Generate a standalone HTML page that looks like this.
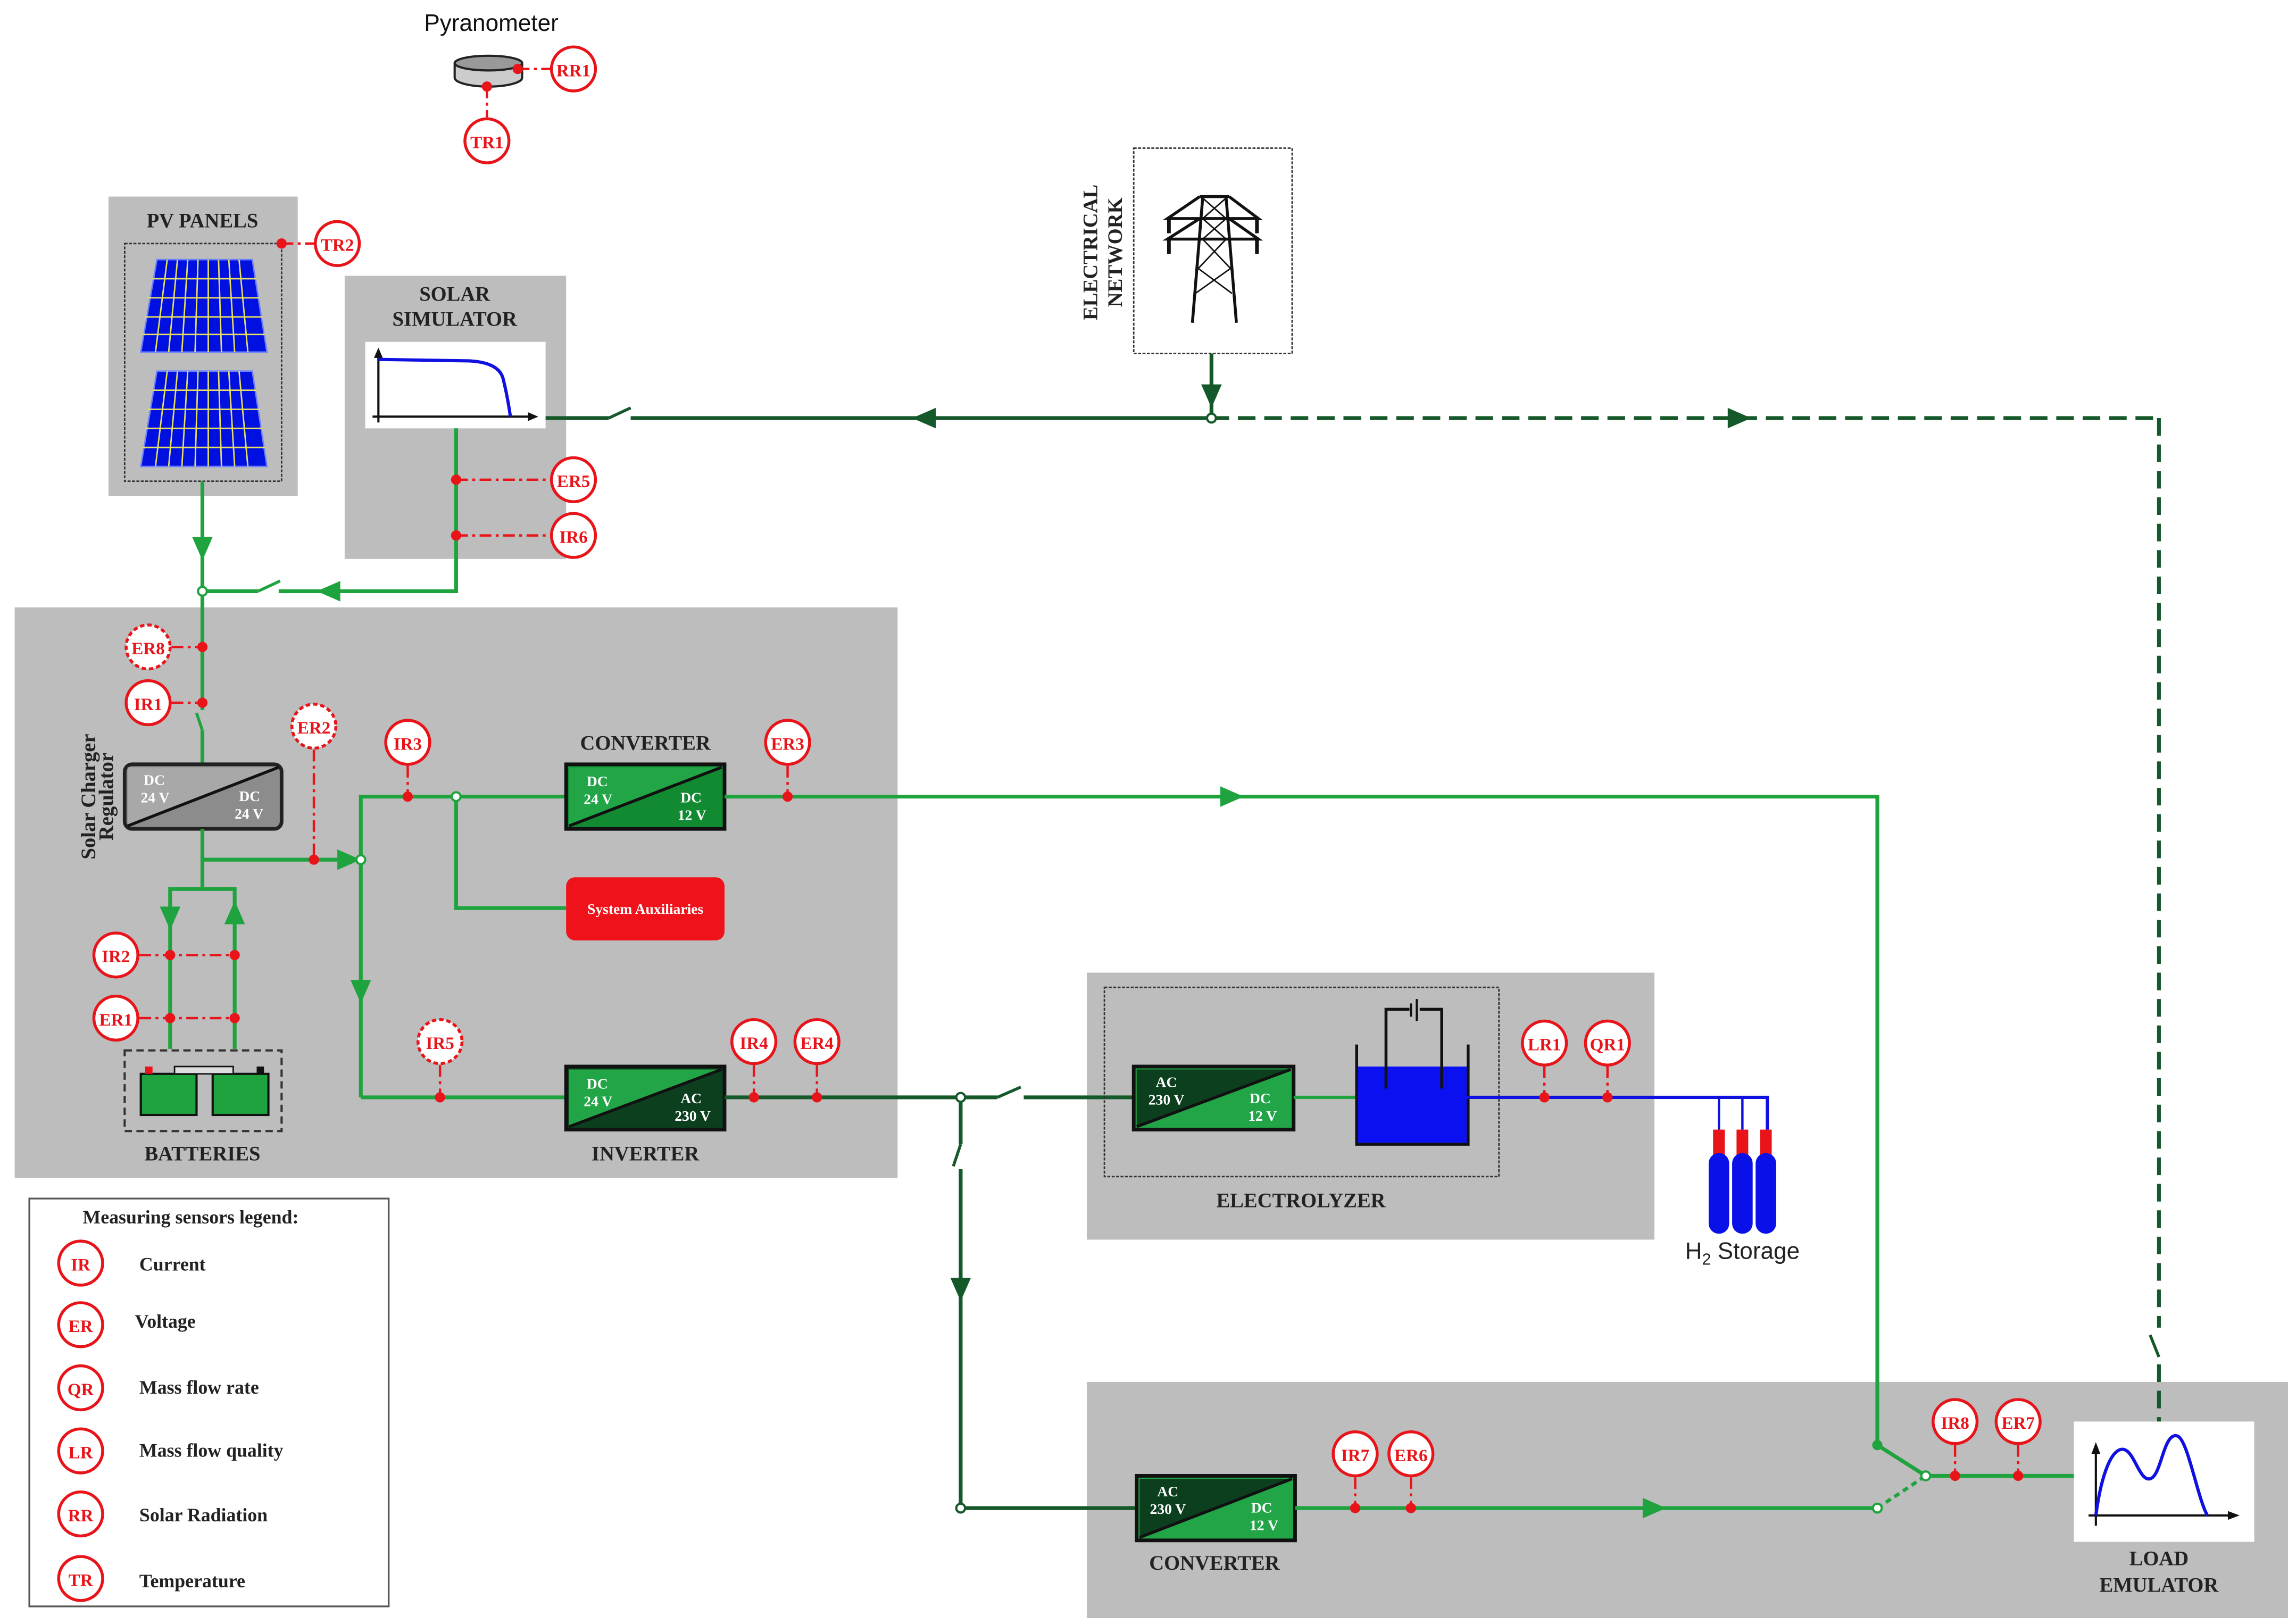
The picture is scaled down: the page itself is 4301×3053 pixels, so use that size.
<!DOCTYPE html>
<html><head><meta charset="utf-8"><style>
html,body{margin:0;padding:0;background:#fff;}
svg{display:block;}
.s{fill:#fff;stroke:#e8141a;stroke-width:2;}
.sd{fill:#fff;stroke:#e8141a;stroke-width:2;stroke-dasharray:3 2;}
.st{font-family:"Liberation Serif",serif;font-weight:bold;font-size:12px;fill:#e8141a;text-anchor:middle;}
.lb{font-family:"Liberation Serif",serif;font-weight:bold;font-size:14px;fill:#222;text-anchor:middle;}
.bx{font-family:"Liberation Serif",serif;font-weight:bold;font-size:10px;fill:#fff;}
.g{stroke:#1fa33f;stroke-width:2.6;fill:none;}
.dg{stroke:#15592a;stroke-width:2.6;fill:none;}
.rd{stroke:#e8141a;stroke-width:1.6;stroke-dasharray:8 3 2 3;fill:none;}
.dot{fill:#e8141a;}
.lg{font-family:"Liberation Serif",serif;font-weight:bold;font-size:13px;fill:#222;}
</style></head><body>
<svg width="4301" height="3053" viewBox="0 0 1560 1107" preserveAspectRatio="none" xmlns="http://www.w3.org/2000/svg">
<defs>
<marker id="ag" markerWidth="8" markerHeight="8" refX="4" refY="4" orient="auto" markerUnits="userSpaceOnUse"></marker>
</defs>
<rect width="1560" height="1107" fill="#fff"/>

<!-- gray panels -->
<rect x="74" y="134" width="129" height="204" fill="#bdbdbd"/>
<rect x="235" y="188" width="151" height="193" fill="#bdbdbd"/>
<rect x="10" y="414" width="602" height="389" fill="#bdbdbd"/>
<rect x="741" y="663" width="387" height="182" fill="#bdbdbd"/>
<rect x="741" y="942" width="819" height="161" fill="#bdbdbd"/>

<!-- Pyranometer -->
<text x="335" y="21" font-family="Liberation Sans,sans-serif" font-size="16" text-anchor="middle" fill="#111">Pyranometer</text>
<path d="M310,43 v10 a23,6 0 0 0 46,0 v-10" fill="#ccc" stroke="#222" stroke-width="1.5"/>
<ellipse cx="333" cy="43" rx="23" ry="5" fill="#999" stroke="#222" stroke-width="1.5"/>
<line x1="353" y1="47" x2="375" y2="47" class="rd"/>
<circle cx="353" cy="47" r="3.5" class="dot"/>
<line x1="332" y1="59" x2="332" y2="80" class="rd"/>
<circle cx="332" cy="59" r="3.5" class="dot"/>
<circle cx="391" cy="47" r="15" class="s"/><text x="391" y="52" class="st">RR1</text>
<circle cx="332" cy="96" r="15" class="s"/><text x="332" y="101" class="st">TR1</text>

<!-- PV panels -->
<text x="138" y="155" class="lb">PV PANELS</text>
<rect x="85" y="166" width="107" height="162" fill="none" stroke="#333" stroke-width="1" stroke-dasharray="2 1"/>
<g>
<polygon points="107,177 172,177 182,240 96,240" fill="#0010e0" stroke="#6a7fff" stroke-width="1"/>
<g stroke="#e8e060" stroke-width="1">
<line x1="104" y1="190" x2="175" y2="190"/><line x1="101" y1="203" x2="177" y2="203"/><line x1="99" y1="216" x2="179" y2="216"/><line x1="97" y1="228" x2="181" y2="228"/>
<line x1="114" y1="177" x2="106" y2="240"/><line x1="121" y1="177" x2="115" y2="240"/><line x1="128" y1="177" x2="124" y2="240"/><line x1="135" y1="177" x2="133" y2="240"/><line x1="142" y1="177" x2="142" y2="240"/><line x1="149" y1="177" x2="151" y2="240"/><line x1="156" y1="177" x2="160" y2="240"/><line x1="163" y1="177" x2="169" y2="240"/>
</g>
<polygon points="107,253 172,253 182,318 96,318" fill="#0010e0" stroke="#6a7fff" stroke-width="1"/>
<g stroke="#e8e060" stroke-width="1">
<line x1="104" y1="266" x2="175" y2="266"/><line x1="101" y1="279" x2="177" y2="279"/><line x1="99" y1="292" x2="179" y2="292"/><line x1="97" y1="305" x2="181" y2="305"/>
<line x1="114" y1="253" x2="106" y2="318"/><line x1="121" y1="253" x2="115" y2="318"/><line x1="128" y1="253" x2="124" y2="318"/><line x1="135" y1="253" x2="133" y2="318"/><line x1="142" y1="253" x2="142" y2="318"/><line x1="149" y1="253" x2="151" y2="318"/><line x1="156" y1="253" x2="160" y2="318"/><line x1="163" y1="253" x2="169" y2="318"/>
</g>
</g>
<line x1="192" y1="166" x2="214" y2="166" class="rd"/>
<circle cx="192" cy="166" r="3.5" class="dot"/>
<circle cx="230" cy="166" r="15" class="s"/><text x="230" y="171" class="st">TR2</text>

<!-- Solar simulator -->
<text x="310" y="205" class="lb">SOLAR</text>
<text x="310" y="222" class="lb">SIMULATOR</text>
<rect x="249" y="233" width="123" height="59" fill="#fff"/>
<line x1="258" y1="240" x2="258" y2="288" stroke="#111" stroke-width="1.5"/>
<line x1="254" y1="284" x2="364" y2="284" stroke="#111" stroke-width="1.5"/>
<polygon points="258,237 255,244 261,244" fill="#111"/>
<polygon points="367,284 360,281 360,287" fill="#111"/>
<path d="M258,245 L320,246 Q340,247 343,258 Q346,270 348,284" fill="none" stroke="#1010e0" stroke-width="2.2"/>

<!-- sim outputs -->
<path d="M311,292 V403 H140" class="g"/>
<polygon points="216,403 232,396 232,410" fill="#1fa33f"/>
<line x1="311" y1="327" x2="375" y2="327" class="rd"/>
<line x1="311" y1="365" x2="375" y2="365" class="rd"/>
<circle cx="311" cy="327" r="3.5" class="dot"/><circle cx="311" cy="365" r="3.5" class="dot"/>
<circle cx="391" cy="327" r="15" class="s"/><text x="391" y="332" class="st">ER5</text>
<circle cx="391" cy="365" r="15" class="s"/><text x="391" y="370" class="st">IR6</text>
<!-- switch gap on horizontal -->
<rect x="176" y="398" width="14" height="10" fill="#fff"/>
<line x1="176" y1="403" x2="191" y2="396" stroke="#1fa33f" stroke-width="2"/>

<!-- PV down -->
<line x1="138" y1="328" x2="138" y2="520" class="g"/>
<polygon points="138,382 131,366 145,366" fill="#1fa33f"/>
<circle cx="138" cy="403" r="3" fill="#fff" stroke="#1fa33f" stroke-width="1.5"/>
<!-- switch IR1 area -->
<rect x="134" y="484" width="8" height="14" fill="#bdbdbd"/>
<line x1="138" y1="498" x2="134" y2="486" stroke="#1fa33f" stroke-width="2"/>
<line x1="117" y1="441" x2="138" y2="441" class="rd"/>
<line x1="117" y1="479" x2="138" y2="479" class="rd"/>
<circle cx="138" cy="441" r="3.5" class="dot"/><circle cx="138" cy="479" r="3.5" class="dot"/>
<circle cx="101" cy="441" r="15" class="sd"/><text x="101" y="446" class="st">ER8</text>
<circle cx="101" cy="479" r="15" class="s"/><text x="101" y="484" class="st">IR1</text>

<!-- Electrical network -->
<rect x="773" y="101" width="108" height="140" fill="#fff" stroke="#333" stroke-width="1" stroke-dasharray="2 1"/>
<text transform="translate(748,172) rotate(-90)" class="lb" font-size="13">ELECTRICAL</text>
<text transform="translate(765,172) rotate(-90)" class="lb" font-size="13">NETWORK</text>
<g stroke="#111" stroke-width="2" fill="none">
<path d="M813,220 L820,135 M843,220 L836,135"/>
<path d="M818,134 H838"/>
<path d="M818,134 L796,149 H858 L838,134"/>
<path d="M818,149 L796,163 H858 L838,149"/>
<path d="M797,148 v11 M857,148 v11 M797,162 v11 M857,162 v11" stroke-width="2.5"/>
<path d="M820,135 L836,149 M836,135 L820,149 M820,149 L836,163 M836,149 L820,163 M820,163 L839,183 M836,163 L817,183 M817,183 L840,200 M839,183 L815,200" stroke-width="1"/>
</g>
<line x1="826" y1="241" x2="826" y2="285" class="dg"/>
<polygon points="826,278 819,262 833,262" fill="#15592a"/>
<line x1="372" y1="285" x2="415" y2="285" class="dg"/>
<line x1="415" y1="285" x2="430" y2="278" stroke="#15592a" stroke-width="2"/>
<line x1="430" y1="285" x2="826" y2="285" class="dg"/>
<polygon points="622,285 638,278 638,292" fill="#15592a"/>
<line x1="826" y1="285" x2="1472" y2="285" stroke="#15592a" stroke-width="2.6" stroke-dasharray="12 6"/>
<polygon points="1194,285 1178,278 1178,292" fill="#15592a"/>
<line x1="1472" y1="285" x2="1472" y2="905" stroke="#15592a" stroke-width="2.6" stroke-dasharray="12 6"/>
<line x1="1466" y1="910" x2="1472" y2="925" stroke="#15592a" stroke-width="2"/>
<line x1="1472" y1="930" x2="1472" y2="969" stroke="#15592a" stroke-width="2.6" stroke-dasharray="12 6"/>
<circle cx="826" cy="285" r="3" fill="#fff" stroke="#15592a" stroke-width="1.5"/>

<!-- Solar charger regulator -->
<text transform="translate(65,543) rotate(-90)" class="lb" font-size="11">Solar Charger</text>
<text transform="translate(77,543) rotate(-90)" class="lb" font-size="11">Regulator</text>
<rect x="85" y="521" width="107" height="44" rx="5" fill="#8c8c8c" stroke="#222" stroke-width="2.5"/>
<polygon points="87,523 190,523 87,563" fill="#a8a8a8"/>
<line x1="87" y1="563" x2="190" y2="523" stroke="#111" stroke-width="2"/>
<text x="98" y="535" class="bx" fill="#eee">DC</text><text x="96" y="547" class="bx">24 V</text>
<text x="163" y="546" class="bx">DC</text><text x="160" y="558" class="bx">24 V</text>

<path d="M138,565 V606" class="g"/>
<path d="M138,586 H246" class="g"/>
<polygon points="246,586 230,579 230,593" fill="#1fa33f"/>
<line x1="214" y1="511" x2="214" y2="586" class="rd"/>
<circle cx="214" cy="586" r="3.5" class="dot"/>
<circle cx="214" cy="495" r="15" class="sd"/><text x="214" y="500" class="st">ER2</text>

<!-- battery branches -->
<path d="M116,715 V606 H160 V715" class="g"/>
<polygon points="116,634 109,618 123,618" fill="#1fa33f"/>
<polygon points="160,614 153,630 167,630" fill="#1fa33f"/>
<line x1="95" y1="651" x2="160" y2="651" class="rd"/>
<line x1="95" y1="694" x2="160" y2="694" class="rd"/>
<circle cx="116" cy="651" r="3.5" class="dot"/><circle cx="160" cy="651" r="3.5" class="dot"/>
<circle cx="116" cy="694" r="3.5" class="dot"/><circle cx="160" cy="694" r="3.5" class="dot"/>
<circle cx="79" cy="651" r="15" class="s"/><text x="79" y="656" class="st">IR2</text>
<circle cx="79" cy="694" r="15" class="s"/><text x="79" y="699" class="st">ER1</text>
<rect x="85" y="716" width="107" height="55" fill="none" stroke="#333" stroke-width="1.5" stroke-dasharray="5 3"/>
<rect x="96" y="732" width="38" height="28" fill="#1fa33f" stroke="#111" stroke-width="1.5"/>
<rect x="145" y="732" width="38" height="28" fill="#1fa33f" stroke="#111" stroke-width="1.5"/>
<rect x="99" y="727" width="5" height="5" fill="#e8141a"/><rect x="175" y="727" width="5" height="5" fill="#111"/>
<rect x="119" y="727" width="40" height="5" fill="#ddd" stroke="#111" stroke-width="1"/>
<text x="138" y="791" class="lb">BATTERIES</text>

<!-- bus -->
<path d="M246,748 V543 H386" class="g"/>
<polygon points="246,684 239,668 253,668" fill="#1fa33f"/>
<circle cx="246" cy="586" r="3" fill="#fff" stroke="#1fa33f" stroke-width="1.5"/>
<path d="M311,543 V619 H386" class="g"/>
<circle cx="311" cy="543" r="3" fill="#fff" stroke="#1fa33f" stroke-width="1.5"/>
<line x1="278" y1="522" x2="278" y2="543" class="rd"/><circle cx="278" cy="543" r="3.5" class="dot"/>
<circle cx="278" cy="506" r="15" class="s"/><text x="278" y="511" class="st">IR3</text>

<!-- converter DC/DC -->
<text x="440" y="511" class="lb">CONVERTER</text>
<rect x="386" y="521" width="108" height="44" fill="#128a32" stroke="#111" stroke-width="2.5"/>
<polygon points="388,523 492,523 388,563" fill="#22a547"/>
<line x1="388" y1="563" x2="492" y2="523" stroke="#111" stroke-width="2"/>
<text x="400" y="536" class="bx">DC</text><text x="398" y="548" class="bx">24 V</text>
<text x="464" y="547" class="bx">DC</text><text x="462" y="559" class="bx">12 V</text>

<rect x="386" y="598" width="108" height="43" rx="6" fill="#f0121a"/>
<text x="440" y="623" class="bx" text-anchor="middle" font-size="11">System Auxiliaries</text>

<path d="M494,543 H1280 V985" class="g"/>
<polygon points="848,543 832,536 832,550" fill="#1fa33f"/>
<line x1="537" y1="522" x2="537" y2="543" class="rd"/><circle cx="537" cy="543" r="3.5" class="dot"/>
<circle cx="537" cy="506" r="15" class="s"/><text x="537" y="511" class="st">ER3</text>

<!-- inverter -->
<path d="M246,748 H386" class="g"/>
<line x1="300" y1="726" x2="300" y2="748" class="rd"/><circle cx="300" cy="748" r="3.5" class="dot"/>
<circle cx="300" cy="710" r="15" class="sd"/><text x="300" y="715" class="st">IR5</text>
<rect x="386" y="727" width="108" height="43" fill="#0b3f1e" stroke="#111" stroke-width="2.5"/>
<polygon points="388,729 492,729 388,768" fill="#22a547"/>
<line x1="388" y1="768" x2="492" y2="729" stroke="#111" stroke-width="2"/>
<text x="400" y="742" class="bx">DC</text><text x="398" y="754" class="bx">24 V</text>
<text x="464" y="752" class="bx">AC</text><text x="460" y="764" class="bx">230 V</text>
<text x="440" y="791" class="lb">INVERTER</text>

<path d="M494,748 H680" class="dg"/>
<line x1="680" y1="748" x2="696" y2="741" stroke="#15592a" stroke-width="2"/>
<path d="M698,748 H773" class="dg"/>
<line x1="514" y1="726" x2="514" y2="748" class="rd"/><circle cx="514" cy="748" r="3.5" class="dot"/>
<line x1="557" y1="726" x2="557" y2="748" class="rd"/><circle cx="557" cy="748" r="3.5" class="dot"/>
<circle cx="514" cy="710" r="15" class="s"/><text x="514" y="715" class="st">IR4</text>
<circle cx="557" cy="710" r="15" class="s"/><text x="557" y="715" class="st">ER4</text>

<path d="M655,748 V780" class="dg"/>
<line x1="655" y1="780" x2="650" y2="795" stroke="#15592a" stroke-width="2"/>
<path d="M655,797 V1028 H775" class="dg"/>
<polygon points="655,887 648,871 662,871" fill="#15592a"/>
<circle cx="655" cy="748" r="3" fill="#fff" stroke="#15592a" stroke-width="1.5"/>
<circle cx="655" cy="1028" r="3" fill="#fff" stroke="#15592a" stroke-width="1.5"/>

<!-- electrolyzer -->
<rect x="753" y="673" width="269" height="129" fill="none" stroke="#333" stroke-width="1" stroke-dasharray="2 1"/>
<rect x="773" y="727" width="109" height="43" fill="#22a547" stroke="#111" stroke-width="2.5"/>
<polygon points="775,729 880,729 775,768" fill="#0b3f1e"/>
<line x1="775" y1="768" x2="880" y2="729" stroke="#111" stroke-width="2"/>
<text x="788" y="741" class="bx">AC</text><text x="783" y="753" class="bx">230 V</text>
<text x="852" y="752" class="bx">DC</text><text x="851" y="764" class="bx">12 V</text>
<line x1="882" y1="748" x2="925" y2="748" stroke="#1fa33f" stroke-width="2.2"/>
<rect x="926" y="727" width="74" height="52" fill="#0a10f0"/>
<path d="M925,712 V780 H1001 V712" fill="none" stroke="#111" stroke-width="2"/>
<path d="M945,742 V688 H961 M968,688 H983 V742" fill="none" stroke="#111" stroke-width="2"/>
<line x1="962" y1="684" x2="962" y2="693" stroke="#111" stroke-width="1.5"/>
<line x1="966" y1="681" x2="966" y2="696" stroke="#111" stroke-width="1.5"/>
<text x="887" y="823" class="lb">ELECTROLYZER</text>
<path d="M1000,748 H1205 V770" fill="none" stroke="#1010e0" stroke-width="2.2"/>
<path d="M1172,748 V770 M1188,748 V770" fill="none" stroke="#1010e0" stroke-width="1.6"/>
<line x1="1053" y1="727" x2="1053" y2="748" class="rd"/><circle cx="1053" cy="748" r="3.5" class="dot"/>
<line x1="1096" y1="727" x2="1096" y2="748" class="rd"/><circle cx="1096" cy="748" r="3.5" class="dot"/>
<circle cx="1053" cy="711" r="15" class="s"/><text x="1053" y="716" class="st">LR1</text>
<circle cx="1096" cy="711" r="15" class="s"/><text x="1096" y="716" class="st">QR1</text>
<g>
<rect x="1168" y="770" width="8" height="20" fill="#e8141a"/><rect x="1184" y="770" width="8" height="20" fill="#e8141a"/><rect x="1200" y="770" width="8" height="20" fill="#e8141a"/>
<rect x="1165" y="786" width="14" height="55" rx="7" fill="#0a10e8"/>
<rect x="1181" y="786" width="14" height="55" rx="7" fill="#0a10e8"/>
<rect x="1197" y="786" width="14" height="55" rx="7" fill="#0a10e8"/>
</g>
<text x="1188" y="858" font-family="Liberation Sans,sans-serif" font-size="16" text-anchor="middle" fill="#222">H<tspan font-size="11" dy="4">2</tspan><tspan dy="-4"> Storage</tspan></text>

<!-- bottom converter -->
<rect x="775" y="1006" width="108" height="44" fill="#22a547" stroke="#111" stroke-width="2.5"/>
<polygon points="777,1008 881,1008 777,1048" fill="#0b3f1e"/>
<line x1="777" y1="1048" x2="881" y2="1008" stroke="#111" stroke-width="2"/>
<text x="789" y="1020" class="bx">AC</text><text x="784" y="1032" class="bx">230 V</text>
<text x="853" y="1031" class="bx">DC</text><text x="852" y="1043" class="bx">12 V</text>
<text x="828" y="1070" class="lb">CONVERTER</text>
<path d="M883,1028 H1280" class="g"/>
<polygon points="1136,1028 1120,1021 1120,1035" fill="#1fa33f"/>
<line x1="924" y1="1007" x2="924" y2="1028" class="rd"/><circle cx="924" cy="1028" r="3.5" class="dot"/>
<line x1="962" y1="1007" x2="962" y2="1028" class="rd"/><circle cx="962" cy="1028" r="3.5" class="dot"/>
<circle cx="924" cy="991" r="15" class="s"/><text x="924" y="996" class="st">IR7</text>
<circle cx="962" cy="991" r="15" class="s"/><text x="962" y="996" class="st">ER6</text>
<line x1="1280" y1="985" x2="1313" y2="1006" stroke="#1fa33f" stroke-width="2.6"/>
<circle cx="1280" cy="985" r="3.5" fill="#1fa33f"/>
<line x1="1280" y1="1028" x2="1313" y2="1006" stroke="#1fa33f" stroke-width="2.4" stroke-dasharray="4 3"/>
<circle cx="1280" cy="1028" r="3" fill="#fff" stroke="#1fa33f" stroke-width="1.5"/>
<path d="M1313,1006 H1414" class="g"/>
<circle cx="1313" cy="1006" r="3" fill="#fff" stroke="#1fa33f" stroke-width="1.5"/>
<line x1="1333" y1="985" x2="1333" y2="1006" class="rd"/><circle cx="1333" cy="1006" r="3.5" class="dot"/>
<line x1="1376" y1="985" x2="1376" y2="1006" class="rd"/><circle cx="1376" cy="1006" r="3.5" class="dot"/>
<circle cx="1333" cy="969" r="15" class="s"/><text x="1333" y="974" class="st">IR8</text>
<circle cx="1376" cy="969" r="15" class="s"/><text x="1376" y="974" class="st">ER7</text>

<!-- load emulator -->
<rect x="1414" y="969" width="123" height="82" fill="#fff"/>
<line x1="1429" y1="987" x2="1429" y2="1040" stroke="#111" stroke-width="1.5"/>
<line x1="1424" y1="1033" x2="1522" y2="1033" stroke="#111" stroke-width="1.5"/>
<polygon points="1429,983 1426,991 1432,991" fill="#111"/>
<polygon points="1527,1033 1519,1030 1519,1036" fill="#111"/>
<path d="M1429,1033 C1432,1010 1438,990 1446,988 C1455,986 1458,1010 1466,1008 C1474,1006 1475,975 1485,979 C1492,983 1498,1020 1505,1033" fill="none" stroke="#1010e0" stroke-width="2.2"/>
<text x="1472" y="1067" class="lb">LOAD</text>
<text x="1472" y="1085" class="lb">EMULATOR</text>

<!-- legend -->
<rect x="20" y="817" width="245" height="278" fill="#fff" stroke="#555" stroke-width="1.2"/>
<text x="130" y="834" class="lg" text-anchor="middle">Measuring sensors legend:</text>
<g>
<circle cx="55" cy="861" r="15" class="s"/><text x="55" y="866" class="st">IR</text><text x="95" y="866" class="lg">Current</text>
<circle cx="55" cy="903" r="15" class="s"/><text x="55" y="908" class="st">ER</text><text x="92" y="905" class="lg">Voltage</text>
<circle cx="55" cy="946" r="15" class="s"/><text x="55" y="951" class="st">QR</text><text x="95" y="950" class="lg">Mass flow rate</text>
<circle cx="55" cy="989" r="15" class="s"/><text x="55" y="994" class="st">LR</text><text x="95" y="993" class="lg">Mass flow quality</text>
<circle cx="55" cy="1032" r="15" class="s"/><text x="55" y="1037" class="st">RR</text><text x="95" y="1037" class="lg">Solar Radiation</text>
<circle cx="55" cy="1076" r="15" class="s"/><text x="55" y="1081" class="st">TR</text><text x="95" y="1082" class="lg">Temperature</text>
</g>
</svg>
</body></html>
